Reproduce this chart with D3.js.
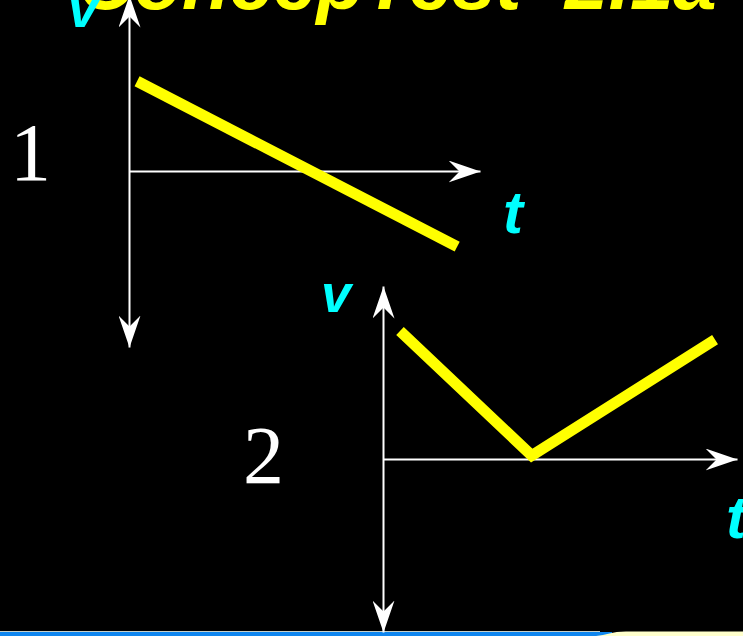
<!DOCTYPE html>
<html>
<head>
<meta charset="utf-8">
<script src="https://cdn.jsdelivr.net/npm/d3@7"></script>
<style>
  html, body { margin: 0; padding: 0; background: #000; }
  svg { display: block; }
</style>
</head>
<body>
<div id="chart"></div>
<script>
// graph 1: v falls steadily through zero
var times1 = [0.23, 9.35];
var speeds1 = [5.1, -4.3];
// graph 2: v falls to zero and then rises again
var times2 = [0.48, 4.2, 9.38];
var speeds2 = [7.4, 0.2, 6.9];

var tDomain = [0, 10];
var vDomain = [-10, 10];
var graphNames = ["1", "2"];
var titleText = "ConcepTest  2.1a";

function init() {
  var w = 743;
  var h = 636;

  var svg = d3.select("#chart")
    .append("svg")
    .attr("width", w)
    .attr("height", h);

  svg.append("rect")
    .attr("width", w)
    .attr("height", h)
    .attr("fill", "#000");

  var defs = svg.append("defs");
  defs.append("marker")
    .attr("id", "arrow")
    .attr("markerUnits", "userSpaceOnUse")
    .attr("viewBox", "0 -11 32 22")
    .attr("refX", 32)
    .attr("refY", 0)
    .attr("markerWidth", 32)
    .attr("markerHeight", 22)
    .attr("orient", "auto-start-reverse")
    .append("path")
    .attr("d", "M0,-11L32,0L0,11L11,0Z")
    .attr("fill", "#fff");

  // title, mostly cut off by the top edge
  svg.append("text")
    .attr("x", 78)
    .attr("y", 9)
    .attr("xml:space", "preserve")
    .style("white-space", "pre")
    .attr("font-family", "'Liberation Sans', Arial, sans-serif")
    .attr("font-weight", "bold")
    .attr("font-style", "italic")
    .attr("font-size", 78)
    .attr("fill", "#ffff00")
    .text(titleText);

  // bottom strip of the slide
  svg.append("rect")
    .attr("x", 0).attr("y", 632)
    .attr("width", 612).attr("height", 4)
    .attr("fill", "#0f86ef");
  svg.append("line")
    .attr("x1", 0).attr("x2", 600)
    .attr("y1", 631.5).attr("y2", 631.5)
    .attr("stroke", "#c8d0c8")
    .attr("stroke-width", 1);
  svg.append("path")
    .attr("d", "M596,636C606,635 612,631.5 626,631.5L743,631.5L743,636Z")
    .attr("fill", "#ffffcc");

  var graphs = [
    { t: times1, v: speeds1, x: [129, 480], y: [347, -5], name: graphNames[0],
      nameAt: [10, 180], vAt: [68, 27], tAt: [503, 233] },
    { t: times2, v: speeds2, x: [383, 737], y: [632, 286], name: graphNames[1],
      nameAt: [243, 483], vAt: [321, 312], tAt: [726, 538] }
  ];

  graphs.forEach(function(g) {
    var xScale = d3.scaleLinear().domain(tDomain).range(g.x);
    var yScale = d3.scaleLinear().domain(vDomain).range(g.y);

    var xAxis = d3.axisBottom().scale(xScale).ticks(0).tickSizeOuter(0);
    var yAxis = d3.axisLeft().scale(yScale).ticks(0).tickSizeOuter(0);

    var gx = svg.append("g")
      .attr("transform", "translate(0," + yScale(0) + ")")
      .call(xAxis);
    var gy = svg.append("g")
      .attr("transform", "translate(" + xScale(0) + ",0)")
      .call(yAxis);

    gx.select(".domain")
      .attr("stroke", "#fff")
      .attr("stroke-width", 2)
      .attr("marker-end", "url(#arrow)");
    gy.select(".domain")
      .attr("stroke", "#fff")
      .attr("stroke-width", 2)
      .attr("marker-start", "url(#arrow)")
      .attr("marker-end", "url(#arrow)");

    var pts = g.t.map(function(d, i) { return [d, g.v[i]]; });
    var line = d3.line()
      .x(function(d) { return xScale(d[0]); })
      .y(function(d) { return yScale(d[1]); });

    svg.append("path")
      .datum(pts)
      .attr("d", line)
      .attr("fill", "none")
      .attr("stroke", "#ffff00")
      .attr("stroke-width", 11)
      .attr("stroke-linejoin", "miter");

    svg.append("text")
      .attr("x", g.nameAt[0])
      .attr("y", g.nameAt[1])
      .attr("font-family", "'Liberation Serif', 'Times New Roman', serif")
      .attr("font-size", 82)
      .attr("fill", "#fff")
      .text(g.name);

    svg.append("text")
      .attr("x", g.vAt[0])
      .attr("y", g.vAt[1])
      .attr("font-family", "'Liberation Sans', Arial, sans-serif")
      .attr("font-weight", "bold")
      .attr("font-style", "italic")
      .attr("font-size", 54)
      .attr("fill", "#00ffff")
      .text("v");

    svg.append("text")
      .attr("x", g.tAt[0])
      .attr("y", g.tAt[1])
      .attr("font-family", "'Liberation Sans', Arial, sans-serif")
      .attr("font-weight", "bold")
      .attr("font-style", "italic")
      .attr("font-size", 60)
      .attr("fill", "#00ffff")
      .text("t");
  });
}

window.onload = init;
</script>
</body>
</html>
